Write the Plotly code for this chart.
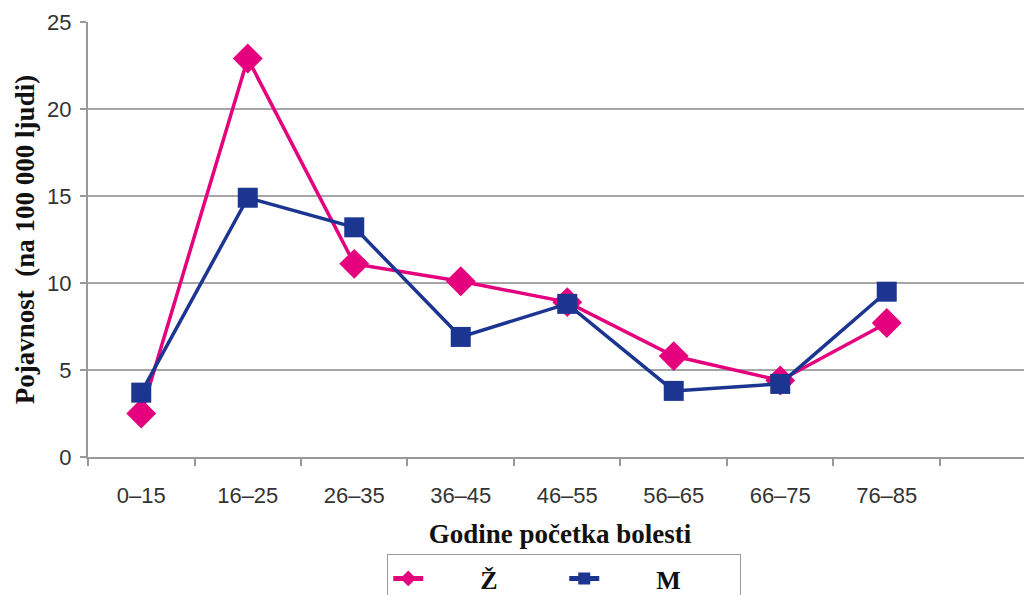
import plotly.graph_objects as go

categories = ["0–15", "16–25", "26–35", "36–45", "46–55", "56–65", "66–75", "76–85"]
zene = [2.5, 22.9, 11.1, 10.1, 8.9, 5.8, 4.4, 7.7]
muskarci = [3.7, 14.9, 13.2, 6.9, 8.8, 3.8, 4.2, 9.5]
y_ticks = [0, 5, 10, 15, 20, 25]

PINK = "#E5007D"
BLUE = "#1B3591"
pos = list(range(len(categories)))
PAD = "\u00a0" * 8

fig = go.Figure()
fig.add_trace(go.Scatter(
    x=pos, y=zene, name="<b>" + PAD + "Ž</b>", mode="lines+markers",
    line=dict(color=PINK, width=3.5),
    marker=dict(symbol="diamond", size=23, color=PINK),
))
fig.add_trace(go.Scatter(
    x=pos, y=muskarci, name="<b>" + PAD + "M</b>", mode="lines+markers",
    line=dict(color=BLUE, width=3.5),
    marker=dict(symbol="square", size=20, color=BLUE),
))

fig.update_layout(
    width=1024, height=587,
    margin=dict(l=80, r=0, t=14, b=138, autoexpand=False),
    plot_bgcolor="white", paper_bgcolor="white",
    font=dict(family="Liberation Sans, Arial", size=22, color="#333333"),
    showlegend=True,
    legend=dict(
        orientation="h", x=0.317, y=-0.223, xanchor="left", yanchor="top",
        bordercolor="#999999", borderwidth=1, bgcolor="white",
        font=dict(family="Liberation Serif, Times New Roman", size=26, color="#111111"),
        entrywidth=131, entrywidthmode="pixels",
        itemsizing="constant",
    ),
)
fig.update_xaxes(
    range=[-0.5, 8.364], automargin=False,
    tickmode="array", tickvals=pos, ticktext=categories,
    ticks="", showgrid=False,
    showline=True, linecolor="#999999", linewidth=2,
    ticklabelstandoff=18,
    minor=dict(tickmode="array", tickvals=[i - 0.5 for i in range(10)],
               ticks="outside", ticklen=7, tickcolor="#999999", tickwidth=2,
               showgrid=False),
    zeroline=False,
    title=dict(text="<b>Godine početka bolesti</b>",
               font=dict(family="Liberation Serif, Times New Roman", size=27, color="#111111"),
               standoff=17),
)
fig.update_yaxes(
    range=[0, 25], automargin=False, tickmode="array", tickvals=y_ticks,
    ticks="outside", ticklen=6, tickcolor="#999999", tickwidth=2,
    showline=True, linecolor="#999999", linewidth=2,
    showgrid=True, gridcolor="#A6A6A6", gridwidth=2,
    zeroline=False,
    ticklabelstandoff=4,
    title=dict(text="<b>Pojavnost  (na 100 000 ljudi)</b>",
               font=dict(family="Liberation Serif, Times New Roman", size=27, color="#111111"),
               standoff=5),
)

fig.write_html("out.html")
